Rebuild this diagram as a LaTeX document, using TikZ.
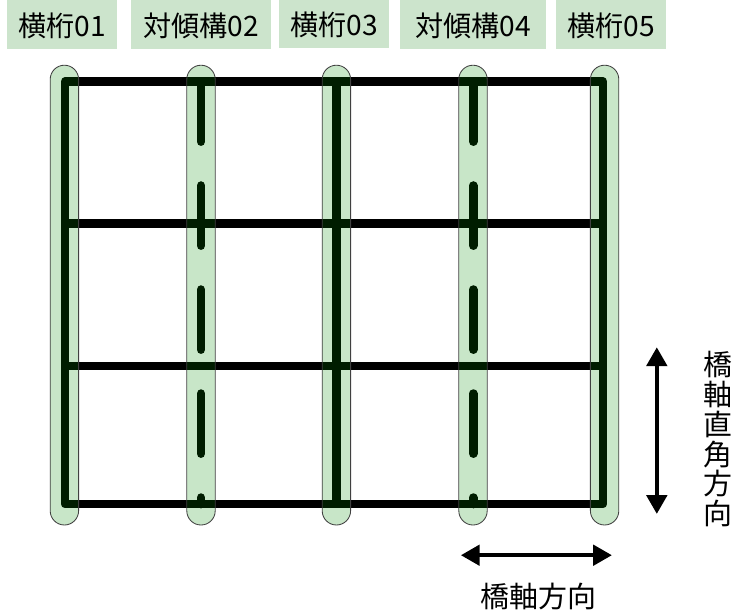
\documentclass[tikz,border=0pt]{standalone}
\usepackage{fontspec}
\usepackage{tikz}
\usetikzlibrary{arrows.meta}
\newfontfamily\jpfont{Noto Sans CJK JP}
\definecolor{beltgreen}{RGB}{0,139,0}
\definecolor{tagbox}{RGB}{204,228,204}

\tikzset{
    tag/.style={fill=tagbox, minimum height=1.22cm, inner sep=0pt, text height=0.66cm, text depth=0.08cm, font=\jpfont\fontsize{20pt}{20pt}\selectfont},
    belt/.style={draw=black!75, line width=0.6pt, fill=beltgreen, fill opacity=0.215, rounded corners=0.355cm},
    beam/.style={line width=6.2pt, line join=round},
    dashbeam/.style={beam, line cap=round, dash pattern=on 1.5cm off 1.1cm},
    axisarrow/.style={<->, line width=3.2pt},
    axislabel/.style={inner sep=0pt, font=\jpfont\fontsize{20.6pt}{20.6pt}\selectfont},
}

\begin{document}
\begin{tikzpicture}[
        >={Triangle[length=0.47cm, width=0.5cm]},
    ]
    \useasboundingbox (0cm, 0cm) rectangle (18.4cm, -15.325cm);

    % frame and cross beams
    \draw[beam] (1.625cm, -2.04cm) rectangle (15.075cm, -12.6cm);
    \foreach \y in {-5.59cm, -9.15cm}
        \draw[beam] (1.625cm, \y) -- (15.075cm, \y);

    \draw[beam] (8.42cm, -2.04cm) -- (8.42cm, -12.6cm);
    \foreach \x in {5.025cm, 11.83cm}
        \draw[dashbeam] (\x, -2.04cm) -- (\x, -12.6cm);

    % green belts over the beams
    \foreach \x in {1.61cm, 5.025cm, 8.41cm, 11.825cm, 15.115cm}
        \draw[belt] (\x-0.355cm, -1.63cm) rectangle (\x+0.355cm, -13.125cm);

    \node[tag, minimum width=2.75cm] (girder01) at (1.55cm, -0.61cm) {横桁01};
    \node[tag, minimum width=3.5cm] (bracing02) at (5.025cm, -0.61cm) {対傾構02};
    \node[tag, minimum width=2.75cm] (girder03) at (8.35cm, -0.6cm) {横桁03};
    \node[tag, minimum width=3.65cm] (bracing04) at (11.825cm, -0.61cm) {対傾構04};
    \node[tag, minimum width=2.75cm] (girder05) at (15.275cm, -0.61cm) {横桁05};

    \coordinate (crosstop) at (16.42cm, -8.68cm);
    \coordinate (crossbot) at (16.42cm, -12.85cm);
    \draw[axisarrow] (crosstop) -- (crossbot);
    \node[axislabel, align=center, text width=0.8cm] (crosslabel) at (17.95cm, -10.98cm)
        {橋\\[0.02cm]軸\\[0.02cm]直\\[0.02cm]角\\[0.02cm]方\\[0.02cm]向};

    \coordinate (alongleft) at (11.52cm, -13.88cm);
    \coordinate (alongright) at (15.3cm, -13.88cm);
    \draw[axisarrow] (alongleft) -- (alongright);
    \node[axislabel] (alonglabel) at (13.47cm, -14.9cm) {橋軸方向};

\end{tikzpicture}
\end{document}
